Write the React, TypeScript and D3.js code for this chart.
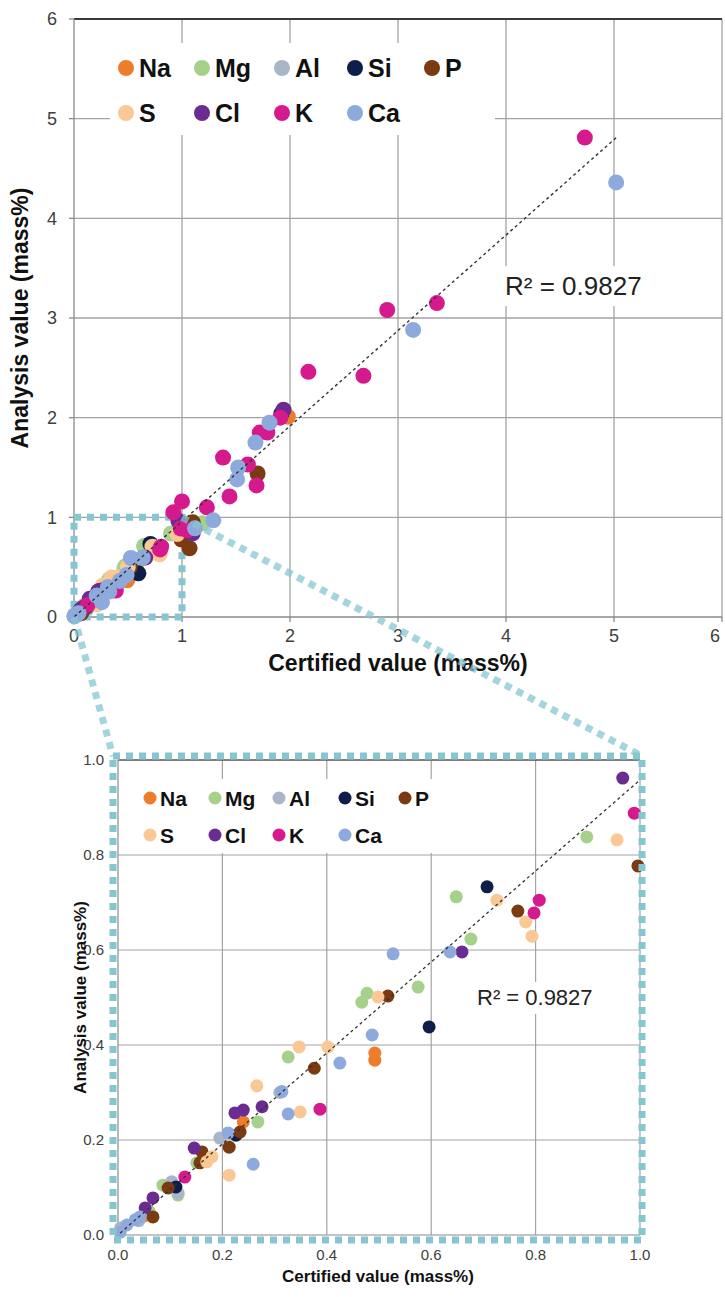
import React from "react";
import * as d3 from "d3";

// ---------- DATA ----------
const elements = ["Na", "Mg", "Al", "Si", "P", "S", "Cl", "K", "Ca"];

const naPoints: [number, number][] = [[0.492, 0.383], [0.492, 0.368], [0.24, 0.238], [1.98, 2.01], [0.05, 0.04]];
const mgPoints: [number, number][] = [[0.898, 0.838], [0.648, 0.712], [0.676, 0.623], [0.575, 0.522], [0.477, 0.509], [0.467, 0.49], [0.326, 0.375], [0.268, 0.238], [0.151, 0.152], [0.086, 0.105], [0.115, 0.084], [1.19, 0.94], [0.06, 0.05]];
const alPoints: [number, number][] = [[0.195, 0.204], [0.103, 0.112], [0.115, 0.088], [0.005, 0.015], [0.31, 0.3], [0.04, 0.03]];
const siPoints: [number, number][] = [[0.707, 0.733], [0.596, 0.438], [0.226, 0.21], [0.111, 0.101], [1.92, 2.04]];
const pPoints: [number, number][] = [[0.996, 0.777], [0.766, 0.682], [0.517, 0.503], [0.376, 0.351], [0.234, 0.217], [0.213, 0.185], [0.161, 0.175], [0.157, 0.152], [0.096, 0.099], [0.067, 0.038], [1.7, 1.44], [1.1, 0.95], [1.07, 0.69]];
const sPoints: [number, number][] = [[0.956, 0.832], [0.726, 0.705], [0.781, 0.659], [0.793, 0.629], [0.498, 0.501], [0.347, 0.396], [0.402, 0.396], [0.266, 0.314], [0.349, 0.259], [0.213, 0.126], [0.17, 0.154], [0.18, 0.165]];
const clPoints: [number, number][] = [[0.967, 0.962], [0.659, 0.596], [0.224, 0.257], [0.24, 0.263], [0.276, 0.27], [0.146, 0.183], [0.067, 0.078], [0.052, 0.057], [1.94, 2.08], [1.1, 0.84]];
const kPoints: [number, number][] = [[0.989, 0.888], [0.807, 0.705], [0.797, 0.678], [0.387, 0.265], [0.128, 0.122], [4.73, 4.81], [3.36, 3.15], [2.9, 3.08], [2.17, 2.46], [2.68, 2.42], [1.91, 2.0], [1.79, 1.85], [1.72, 1.85], [1.38, 1.6], [1.61, 1.53], [1.69, 1.32], [1.44, 1.21], [1.0, 1.16], [1.23, 1.1], [0.92, 1.05], [1.05, 0.87]];
const caPoints: [number, number][] = [[0.527, 0.592], [0.636, 0.596], [0.487, 0.421], [0.425, 0.362], [0.314, 0.302], [0.326, 0.255], [0.211, 0.215], [0.259, 0.149], [0.042, 0.038], [0.033, 0.032], [0.017, 0.021], [0.004, 0.006], [5.02, 4.36], [3.14, 2.88], [1.81, 1.95], [1.68, 1.75], [1.52, 1.5], [1.51, 1.38], [1.29, 0.97], [1.12, 0.89]];

const seriesPoints = [naPoints, mgPoints, alPoints, siPoints, pPoints, sPoints, clPoints, kPoints, caPoints];

const topTicks = [0, 1, 2, 3, 4, 5, 6];
const bottomTicks = [0, 0.2, 0.4, 0.6, 0.8, 1.0];

const trendSlope = 0.958;
const trendIntercept = 0;
const r2Label = "R² = 0.9827";
const xTitle = "Certified value (mass%)";
const yTitle = "Analysis value (mass%)";

// ---------- STYLE ----------
const colors = ["#EE7D2B", "#A5D18B", "#A8B6C8", "#0E1E48", "#7A3A12", "#F9C894", "#6B2C92", "#D51A8E", "#8EAADC"];
const boxColor = "#86C6D1";
const gridColor = "#a3a3a3";
const font = "'Liberation Sans', Arial, sans-serif";
const narrow = "'Liberation Sans Narrow', 'Liberation Sans', Arial, sans-serif";

export default function App() {
  const series = elements.map((name, i) => ({ name, color: colors[i], points: seriesPoints[i] }));
  const allX = series.flatMap((s) => s.points.map((p) => p[0]));
  const maxX = d3.max(allX) as number;
  const minX = d3.min(allX) as number;

  // top chart scales
  const xT = d3.scaleLinear().domain([0, 6]).range([74, 722]);
  const yT = d3.scaleLinear().domain([0, 6]).range([617, 19]);
  // bottom chart scales
  const xB = d3.scaleLinear().domain([0, 1]).range([118, 640]);
  const yB = d3.scaleLinear().domain([0, 1]).range([1235, 760]);

  const trendTop = d3.line<number>().x((d) => xT(d)).y((d) => yT(trendSlope * d + trendIntercept))([minX, maxX]) as string;
  const trendBot = d3.line<number>().x((d) => xB(d)).y((d) => yB(trendSlope * d + trendIntercept))([minX, 1.0]) as string;

  const topLegCols = [126, 202, 282, 355, 432];
  const topLegRows = [68, 113];
  const botLegCols = [150, 215, 279, 345, 405];
  const botLegRows = [798, 835];

  const fmt = d3.format(".1f");

  // zoom box coordinates
  const tb = { x0: xT(0), x1: xT(1), y0: yT(1), y1: yT(0) };
  const bb = { x0: 113, x1: 642, y0: 756, y1: 1240 };

  return (
    <svg width={725} height={1297} style={{ position: "absolute", left: 0, top: 0, background: "#fff" }} fontFamily={font}>
      <defs>
        <clipPath id="botClip">
          <rect x={xB(0) - 8} y={yB(1) - 8} width={xB(1) - xB(0) + 16} height={yB(0) - yB(1) + 16} />
        </clipPath>
      </defs>
      {/* ================= TOP CHART ================= */}
      <g>
        {topTicks.slice(1).map((t) => (
          <line key={"tv" + t} x1={xT(t)} x2={xT(t)} y1={yT(0)} y2={yT(6)} stroke={gridColor} strokeWidth={1.3} />
        ))}
        {topTicks.slice(1).map((t) => (
          <line key={"th" + t} x1={xT(0)} x2={xT(6)} y1={yT(t)} y2={yT(t)} stroke={t === 6 ? "#3a3a3a" : gridColor} strokeWidth={t === 6 ? 1.8 : 1.3} />
        ))}
        {/* axes */}
        <line x1={xT(0)} x2={xT(0)} y1={yT(0)} y2={yT(6)} stroke="#8a8a8a" strokeWidth={1.3} />
        <line x1={xT(0)} x2={xT(6)} y1={yT(0)} y2={yT(0)} stroke="#8a8a8a" strokeWidth={1.3} />
        {topTicks.map((t) => (
          <g key={"tt" + t}>
            <line x1={xT(0) - 5} x2={xT(0)} y1={yT(t)} y2={yT(t)} stroke="#8a8a8a" strokeWidth={1.3} />
            <line x1={xT(t)} x2={xT(t)} y1={yT(0)} y2={yT(0) + 5} stroke="#8a8a8a" strokeWidth={1.3} />
            <text x={xT(0) - 17} y={yT(t)} dy="0.35em" textAnchor="end" fontSize={18} fontFamily={narrow} fill="#404040">{t}</text>
            <text x={t === 6 ? xT(t) - 2 : xT(t)} y={yT(0) + 19} dy="0.35em" textAnchor={t === 6 ? "end" : "middle"} fontSize={18} fontFamily={narrow} fill="#404040">{t}</text>
          </g>
        ))}
        {/* legend */}
        <rect x={110} y={43} width={385} height={92} fill="#fff" />
        {series.map((s, i) => {
          const cx = topLegCols[i % 5];
          const cy = topLegRows[Math.floor(i / 5)];
          return (
            <g key={"lt" + s.name}>
              <circle cx={cx} cy={cy} r={8} fill={s.color} />
              <text x={cx + 13} y={cy} dy="0.36em" fontSize={25} fontWeight="bold" fill="#111">{s.name}</text>
            </g>
          );
        })}
        {/* R2 label */}
        <rect x={500} y={266} width={152} height={40} fill="#fff" />
        <text x={505} y={286} dy="0.36em" fontSize={26} fill="#222">{r2Label}</text>
        {/* zoom box */}
        <rect x={tb.x0} y={tb.y0} width={tb.x1 - tb.x0} height={tb.y1 - tb.y0} fill="none" stroke={boxColor} strokeWidth={7} strokeDasharray="7 6" />
        {/* points */}
        {series.map((s) => (
          <g key={"pt" + s.name}>
            {s.points.map((p, j) => (
              <circle key={j} cx={xT(p[0])} cy={yT(p[1])} r={8} fill={s.color} />
            ))}
          </g>
        ))}
        <path d={trendTop} stroke="#333" strokeWidth={1.4} strokeDasharray="3 3" fill="none" />
        {/* titles */}
        <text x={398} y={663} dy="0.35em" textAnchor="middle" fontSize={23} fontWeight="bold" fill="#111">{xTitle}</text>
        <text transform={`translate(20,${yT(3)}) rotate(-90)`} textAnchor="middle" dy="0.35em" fontSize={23} fontWeight="bold" fill="#111">{yTitle}</text>
      </g>

      {/* connector lines */}
      <line x1={tb.x1} y1={tb.y0} x2={bb.x1} y2={bb.y0} stroke={boxColor} strokeOpacity={0.75} strokeWidth={7} strokeDasharray="7 6" />
      <line x1={tb.x0} y1={tb.y1} x2={bb.x0} y2={bb.y0} stroke={boxColor} strokeOpacity={0.75} strokeWidth={7} strokeDasharray="7 6" />

      {/* ================= BOTTOM CHART ================= */}
      <g>
        <rect x={bb.x0} y={bb.y0} width={bb.x1 - bb.x0} height={bb.y1 - bb.y0} fill="#fff" />
        {bottomTicks.slice(1).map((t) => (
          <line key={"bv" + t} x1={xB(t)} x2={xB(t)} y1={yB(0)} y2={yB(1)} stroke={gridColor} strokeWidth={1.2} />
        ))}
        {bottomTicks.slice(1).map((t) => (
          <line key={"bh" + t} x1={xB(0)} x2={xB(1)} y1={yB(t)} y2={yB(t)} stroke={t === 1 ? "#555" : gridColor} strokeWidth={t === 1 ? 1.6 : 1.2} />
        ))}
        <line x1={xB(0)} x2={xB(0)} y1={yB(0)} y2={yB(1)} stroke="#8a8a8a" strokeWidth={1.2} />
        <line x1={xB(0)} x2={xB(1)} y1={yB(0)} y2={yB(0)} stroke="#8a8a8a" strokeWidth={1.2} />
        {bottomTicks.map((t) => (
          <g key={"bt" + t}>
            <text x={xB(0) - 14} y={yB(t)} dy="0.35em" textAnchor="end" fontSize={15} fontFamily={narrow} fill="#404040">{fmt(t)}</text>
            <text x={xB(t)} y={yB(0) + 20} dy="0.35em" textAnchor="middle" fontSize={15} fontFamily={narrow} fill="#404040">{fmt(t)}</text>
          </g>
        ))}
        {/* legend */}
        <rect x={136} y={779} width={300} height={74} fill="#fff" />
        {series.map((s, i) => {
          const cx = botLegCols[i % 5];
          const cy = botLegRows[Math.floor(i / 5)];
          return (
            <g key={"lb" + s.name}>
              <circle cx={cx} cy={cy} r={6.5} fill={s.color} />
              <text x={cx + 10} y={cy} dy="0.36em" fontSize={21} fontWeight="bold" fill="#111">{s.name}</text>
            </g>
          );
        })}
        <rect x={472} y={982} width={126} height={32} fill="#fff" />
        <text x={477} y={997} dy="0.36em" fontSize={22} fill="#222">{r2Label}</text>
        <g clipPath="url(#botClip)">
          {series.map((s) => (
            <g key={"pb" + s.name}>
              {s.points.filter((p) => p[0] <= 1.02 && p[1] <= 1.02).map((p, j) => (
                <circle key={j} cx={xB(p[0])} cy={yB(p[1])} r={6.5} fill={s.color} />
              ))}
            </g>
          ))}
          <path d={trendBot} stroke="#333" strokeWidth={1.3} strokeDasharray="3 3" fill="none" />
        </g>
        <rect x={bb.x0} y={bb.y0} width={bb.x1 - bb.x0} height={bb.y1 - bb.y0} fill="none" stroke={boxColor} strokeWidth={7} strokeDasharray="7 6" />
        <text x={378} y={1276} dy="0.35em" textAnchor="middle" fontSize={17} fontWeight="bold" fill="#111">{xTitle}</text>
        <text transform={`translate(80,${yB(0.5)}) rotate(-90)`} textAnchor="middle" dy="0.35em" fontSize={17} fontWeight="bold" fill="#111">{yTitle}</text>
      </g>
    </svg>
  );
}
